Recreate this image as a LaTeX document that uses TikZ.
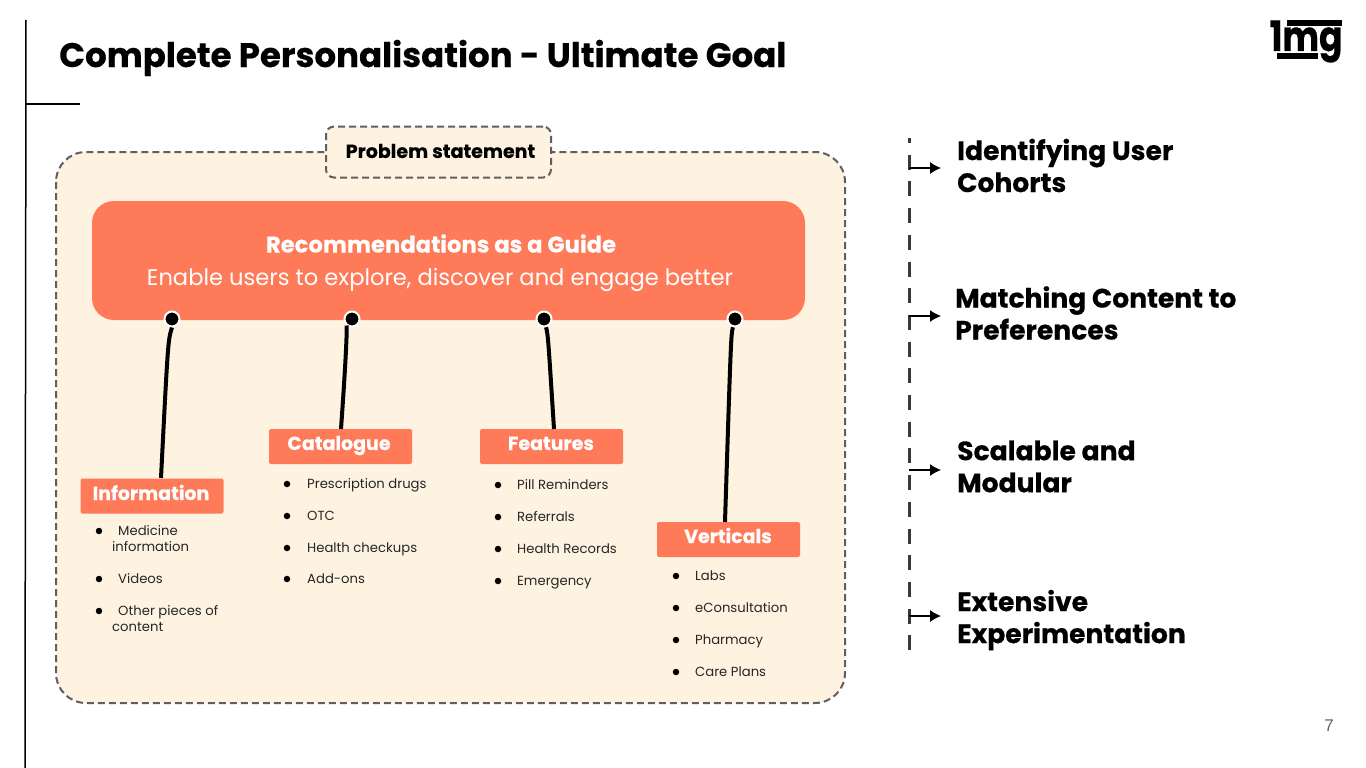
\documentclass[tikz,border=0pt]{standalone}
\usepackage{fontspec}
\setmainfont[BoldFeatures={FakeBold=0.4}]{Poppins}
\newfontfamily\arialfont{Liberation Sans}
\definecolor{panelfill}{HTML}{FEF3E0}
\definecolor{coral}{HTML}{FF7A59}
\definecolor{dashgray}{HTML}{5F5F5F}
\tikzset{
  tag/.style={fill=coral,rounded corners=2pt,minimum width=143pt,minimum height=35pt,inner sep=0pt},
  tagtext/.style={anchor=base,inner sep=0pt,text=white,font=\fontsize{19}{20}\selectfont\bfseries},
  bullet/.style={circle,fill=black,inner sep=0pt,minimum size=6.5pt},
  item/.style={anchor=base west,inner sep=0pt,align=left,font=\fontsize{13.2}{16}\selectfont,text=black!85},
  goal/.style={anchor=west,inner sep=0pt,align=left,font=\fontsize{26.6}{32}\selectfont\bfseries},
  pin/.style={circle,fill=black,draw=white,line width=2pt,minimum size=15pt,inner sep=0pt},
  stem/.style={line width=4pt},
  pointer/.style={-{Latex[length=11pt,width=12pt]},line width=1.2pt,shorten >=16pt},
}
\usetikzlibrary{arrows.meta}
\begin{document}
\begin{tikzpicture}[x=1pt,y=-1pt]
            \useasboundingbox (0,0) rectangle (1366,768);
            \fill[white] (0,0) rectangle (1366,768);
            % slide frame
            \coordinate (frametop) at (26,20);
            \coordinate (framebottom) at (25,768);
            \coordinate (frametick) at (26,104);
            \coordinate (frametickend) at (80,104);
            \draw[line width=1.5pt] (frametop) -- (framebottom);
            \draw[line width=1.5pt] (frametick) -- (frametickend);
            \node[anchor=base west,inner sep=0pt,font=\fontsize{34}{40}\selectfont\bfseries] (title) at (59,67) {Complete Personalisation - Ultimate Goal};
            % logo
            \node[anchor=base,inner sep=0pt,xscale=.82,transform shape,font=\fontsize{42}{40}\selectfont\bfseries] (logo) at (1306,51) {1mg};
            \fill (1287,20) rectangle (1342,26);
            \fill (1277,53) rectangle (1318,59);
            \node[text=black!60,font=\arialfont\fontsize{17}{20}\selectfont] (pageno) at (1329,726) {7};
            % panel
            \draw[fill=panelfill,draw=dashgray,line width=2pt,dash pattern=on 7pt off 4pt,rounded corners=30pt] (56,152) rectangle (845,703);
            \node[fill=panelfill,draw=dashgray,line width=2pt,dash pattern=on 7pt off 4pt,rounded corners=8pt,minimum width=225pt,minimum height=51pt,inner sep=0pt] (problem) at (438.5,152) {};
            \node[inner sep=0pt,font=\fontsize{19}{20}\selectfont\bfseries] (problemtext) at (440.5,151) {Problem statement};
            \node[fill=coral,rounded corners=22pt,minimum width=713pt,minimum height=119pt,inner sep=0pt] (guide) at (448.5,260.5) {};
            \node[anchor=base,text=white,inner sep=0pt,font=\fontsize{22.7}{24}\selectfont\bfseries] (guidehead) at (441,252.5) {Recommendations as a Guide};
            \node[anchor=base,text=white,inner sep=0pt,font=\fontsize{22.6}{26}\selectfont] (guidetext) at (440,285) {Enable users to explore, discover and engage better};
            % tags
            \node[tag] (information) at (152,496) {};
            \node[tag] (catalogue) at (340.5,446.5) {};
            \node[tag] (features) at (551.5,446.5) {};
            \node[tag] (verticals) at (728.5,539.5) {};
            \node[tagtext] (informationtext) at (151,500) {Information};
            \node[tagtext] (cataloguetext) at (339,450) {Catalogue};
            \node[tagtext] (featurestext) at (551,450) {Features};
            \node[tagtext] (verticalstext) at (728,543) {Verticals};
            % pins and stems
            \node[pin] (pinA) at (172,319) {};
            \node[pin] (pinB) at (352,319) {};
            \node[pin] (pinC) at (544,319) {};
            \node[pin] (pinD) at (735,319) {};
            \coordinate (stemA) at (161,478);
            \coordinate (stemB) at (341,429);
            \coordinate (stemC) at (554,429);
            \coordinate (stemD) at (725,522);
            \draw[stem] (pinA.south) .. controls (168,340) .. (stemA);
            \draw[stem] (pinB) .. controls (347,325) and (347,345) .. (stemB);
            \draw[stem] (pinC) .. controls (548,335) .. (stemC);
            \draw[stem] (pinD) .. controls (731,335) .. (stemD);
            % lists
            \node[bullet] (bulletA) at (99,531) {};
            \node[item,anchor=west] (itemA) at (112,539) {\hspace*{6pt}Medicine\\information};
            \node[bullet] (bulletB) at (99,579) {};
            \node[item] (itemB) at (118,583.5) {Videos};
            \node[bullet] (bulletC) at (99,611) {};
            \node[item,anchor=west] (itemC) at (112,619) {\hspace*{6pt}Other pieces of\\content};
            \node[bullet] (bulletD) at (287,484) {};
            \node[item] (itemD) at (307,488.5) {Prescription drugs};
            \node[bullet] (bulletE) at (287,516) {};
            \node[item] (itemE) at (307,520.5) {OTC};
            \node[bullet] (bulletF) at (287,548) {};
            \node[item] (itemF) at (307,552.5) {Health checkups};
            \node[bullet] (bulletG) at (287,579) {};
            \node[item] (itemG) at (307,583.5) {Add-ons};
            \node[bullet] (bulletH) at (498,485) {};
            \node[item] (itemH) at (517,489.5) {Pill Reminders};
            \node[bullet] (bulletI) at (498,517) {};
            \node[item] (itemI) at (517,521.5) {Referrals};
            \node[bullet] (bulletJ) at (498,549) {};
            \node[item] (itemJ) at (517,553.5) {Health Records};
            \node[bullet] (bulletK) at (498,581) {};
            \node[item] (itemK) at (517,585.5) {Emergency};
            \node[bullet] (bulletL) at (676,576) {};
            \node[item] (itemL) at (695,580) {Labs};
            \node[bullet] (bulletM) at (676,608) {};
            \node[item] (itemM) at (695,612) {eConsultation};
            \node[bullet] (bulletN) at (676,640) {};
            \node[item] (itemN) at (695,644) {Pharmacy};
            \node[bullet] (bulletO) at (676,672) {};
            \node[item] (itemO) at (695,676) {Care Plans};
            % right column
            \coordinate (railtop) at (909,138);
            \coordinate (railbottom) at (909,650);
            \draw[line width=3pt,dash pattern=on 15pt off 11.7pt,dash phase=10pt,dashgray!60!black] (railtop) -- (railbottom);
            \node[goal] (cohorts) at (957,165.5) {Identifying User\\Cohorts};
            \node[goal] (matching) at (955,313) {Matching Content to\\Preferences};
            \node[goal] (scalable) at (957,466.5) {Scalable and\\Modular};
            \node[goal] (experiment) at (957,620) {Extensive\\Experimentation};
            \coordinate (tickA) at (909,168);
            \coordinate (tickB) at (909,316);
            \coordinate (tickC) at (909,470);
            \coordinate (tickD) at (909,616);
            \draw[pointer] (tickA) -- (cohorts.west |- tickA);
            \draw[pointer] (tickB) -- (scalable.west |- tickB);
            \draw[pointer] (tickC) -- (scalable.west |- tickC);
            \draw[pointer] (tickD) -- (experiment.west |- tickD);
\end{tikzpicture}
\end{document}
